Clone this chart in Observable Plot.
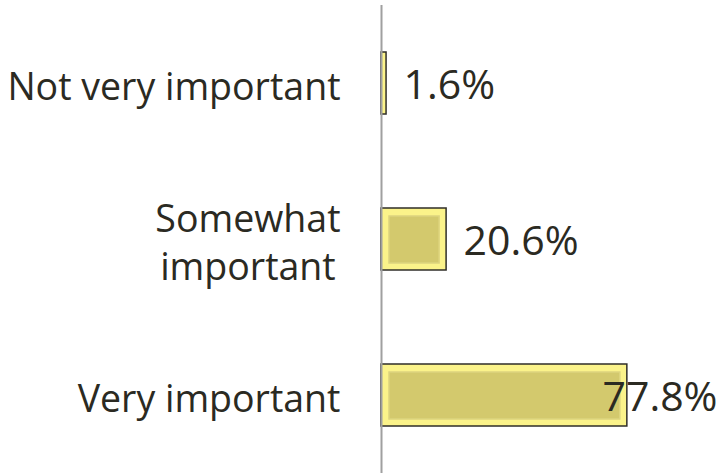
<!DOCTYPE html>
<html>
<head>
<meta charset="utf-8">
<script src="https://cdn.jsdelivr.net/npm/d3@7"></script>
<script src="https://cdn.jsdelivr.net/npm/@observablehq/plot@0.6"></script>
<style>
  html, body { margin: 0; padding: 0; background: #ffffff; }
  #chart svg { display: block; }
</style>
</head>
<body>
<div id="chart"></div>
<script>
const categories = ["Not very important", "Somewhat\nimportant", "Very important"];
const values = [1.6, 20.6, 77.8];
const valueLabels = ["1.6%", "20.6%", "77.8%"];

const data = categories.map((c, i) => ({category: c, value: values[i], label: valueLabels[i]}));

const textColor = "#2b2a22";
const fitsOutside = d => d.value < 70;

const chart = Plot.plot({
  width: 722,
  height: 473,
  marginTop: 5,
  marginBottom: 0,
  marginLeft: 0,
  marginRight: 5,
  style: {background: "#ffffff"},
  x: {domain: [0, 100], range: [381, 697], axis: null},
  y: {domain: categories, paddingInner: 0.6, paddingOuter: 0.3, axis: null},
  marks: [
    Plot.barX(data, {
      y: "category", x: "value",
      fill: "#fbf38a", stroke: "#2f2e28", strokeWidth: 1.5
    }),
    Plot.barX(data.filter(d => d.value > 5), {
      y: "category", x: "value",
      insetLeft: 8, insetRight: 7, insetTop: 8, insetBottom: 7,
      fill: "#d3c96d", stroke: "#ddd47f", strokeWidth: 1.5
    }),
    Plot.ruleX([0], {stroke: "#a0a0a0", strokeWidth: 2}),
    Plot.text(data, {
      y: "category", x: 0, text: "category",
      dx: -41, dy: 1, textAnchor: "end", lineHeight: 1.3,
      fontSize: 37.5, fontFamily: "Open Sans", fill: textColor
    }),
    Plot.text(data.filter(fitsOutside), {
      y: "category", x: "value", text: "label",
      dx: 17, dy: 2, textAnchor: "start",
      fontSize: 41, fontFamily: "Open Sans", fill: textColor
    }),
    Plot.text(data.filter(d => !fitsOutside(d)), {
      y: "category", text: "label", frameAnchor: "right",
      dy: 2, textAnchor: "end",
      fontSize: 41, fontFamily: "Open Sans", fill: textColor
    })
  ]
});

document.getElementById("chart").appendChild(chart);

// center multi-line category labels within their right-aligned block
d3.select(chart).selectAll("text").each(function() {
  const tspans = d3.select(this).selectAll("tspan");
  if (tspans.size() > 1) {
    let w = 0;
    tspans.each(function() { w = Math.max(w, this.getComputedTextLength()); });
    d3.select(this).attr("text-anchor", "middle");
    tspans.attr("x", -w / 2);
  }
});
</script>
</body>
</html>
